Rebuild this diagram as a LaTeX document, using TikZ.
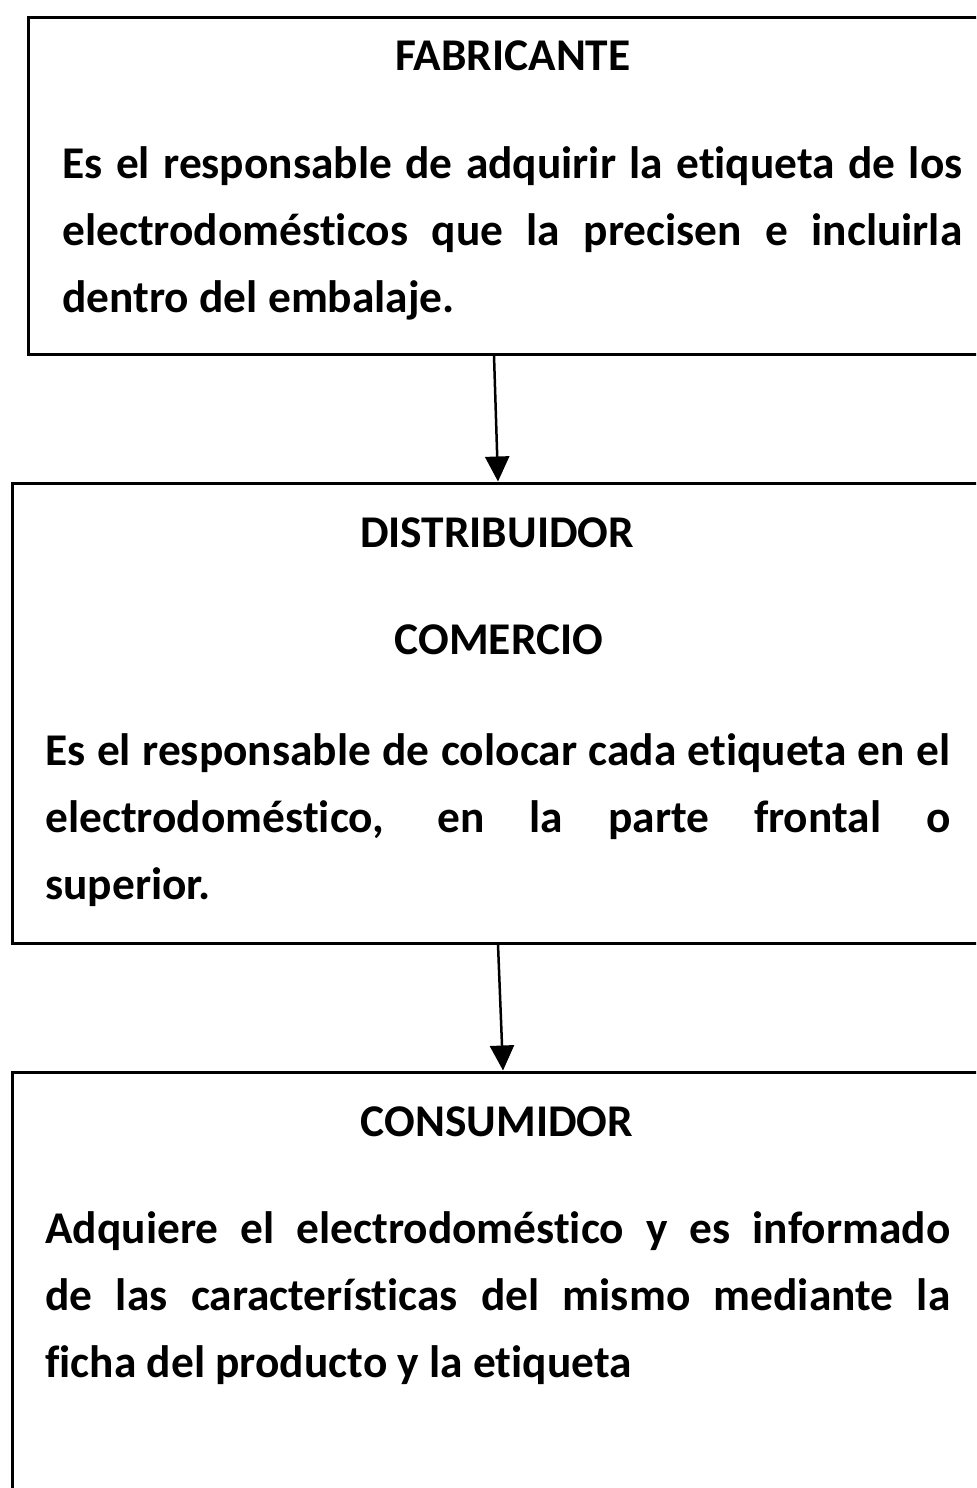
\documentclass[tikz,border=0pt]{standalone}
\usepackage{fontspec}
\setmainfont{Carlito}[Ligatures=NoCommon]
\usetikzlibrary{arrows.meta}
\begin{document}
\begin{tikzpicture}[x=0.5pt,y=-0.5pt,
 caja/.style={draw,line width=1.5pt,minimum width=485pt,inner sep=0pt},
 titulo/.style={font=\fontsize{22.7}{26}\selectfont\bfseries,inner sep=0pt,anchor=base},
 texto/.style={font=\fontsize{22.7}{33.5}\selectfont\bfseries,inner sep=0pt,anchor=base west,align=justify,text width=#1},
 flecha/.style={line width=1.25pt,-{Triangle[length=12.5pt,width=12pt]}}]
 \clip (0,0) rectangle (976,1488);
 % cajas
 \node[caja,minimum height=168.5pt] (fab) at (513,185.5) {};
 \node[caja,minimum height=230pt] (dis) at (497,713) {};
 \node[caja,minimum height=224pt] (con) at (497,1296) {};
 % textos
 \node[titulo] (tfab) at (513,70) {FABRICANTE};
 \node[texto=450pt] (xfab) at (62,178) {Es el responsable de adquirir la etiqueta de los\linebreak electrodomésticos que la precisen e incluirla\linebreak dentro del embalaje.};
 \node[titulo] (tdis) at (497,547) {DISTRIBUIDOR};
 \node[titulo] (tcom) at (499,654) {COMERCIO};
 \node[texto=452.5pt] (xdis) at (45,765) {Es el responsable de colocar cada etiqueta en el\linebreak electrodoméstico, en la parte frontal o\linebreak superior.};
 \node[titulo] (tcon) at (497,1136) {CONSUMIDOR};
 \node[texto=452.5pt] (xcon) at (45,1243) {Adquiere el electrodoméstico y es informado\linebreak de las características del mismo mediante la\linebreak ficha del producto y la etiqueta};
 % flechas
 \draw[flecha] ([xshift=-9.5pt]fab.south) -- ([xshift=0.5pt]dis.north);
 \draw[flecha] ([xshift=0.5pt]dis.south) -- ([xshift=3pt]con.north);
\end{tikzpicture}
\end{document}
